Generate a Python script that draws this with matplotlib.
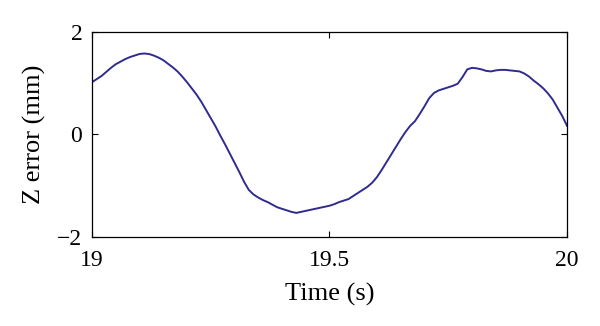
import numpy as np
import matplotlib
matplotlib.use("Agg")
import matplotlib.pyplot as plt

# time samples (s) and Z error (mm) at 0.01 s steps
time_s = np.round(np.arange(19.0, 20.0001, 0.01), 2)
z_error = [
    1.02, 1.08, 1.14, 1.22, 1.30, 1.37, 1.42, 1.47, 1.51, 1.54,
    1.57, 1.58, 1.57, 1.54, 1.50, 1.45, 1.38, 1.31, 1.23, 1.13,
    1.02, 0.90, 0.78, 0.64, 0.48, 0.32, 0.16, -0.02, -0.19, -0.37,
    -0.55, -0.73, -0.92, -1.08, -1.17, -1.23, -1.28, -1.32, -1.37, -1.42,
    -1.45, -1.48, -1.51, -1.53, -1.51, -1.49, -1.47, -1.45, -1.43, -1.41,
    -1.39, -1.36, -1.32, -1.29, -1.26, -1.20, -1.14, -1.08, -1.02, -0.94,
    -0.83, -0.69, -0.54, -0.39, -0.24, -0.09, 0.05, 0.17, 0.26, 0.40,
    0.55, 0.71, 0.81, 0.86, 0.89, 0.92, 0.95, 0.99, 1.12, 1.27,
    1.30, 1.29, 1.27, 1.24, 1.23, 1.25, 1.26, 1.26, 1.25, 1.24,
    1.23, 1.19, 1.13, 1.05, 0.98, 0.90, 0.80, 0.68, 0.52, 0.36,
    0.17,
]
x_ticks = [19, 19.5, 20]
x_tick_labels = ["19", "19.5", "20"]
y_ticks = [-2, 0, 2]

plt.rcParams['font.family'] = ['Liberation Serif', 'DejaVu Serif']

fig = plt.figure(figsize=(6.0, 3.26), dpi=100)
ax = fig.add_axes([0.1533, 0.273, 0.7917, 0.629])
ax.plot(time_s, z_error, color='#302b8e', linewidth=1.4)

ax.set_xlim(19, 20)
ax.set_ylim(-2, 2)
ax.set_xticks(x_ticks)
ax.set_xticklabels(x_tick_labels)
ax.set_yticks(y_ticks)
ax.tick_params(direction='in', top=True, right=True, length=4, width=0.8,
               labelsize=17)
ax.tick_params(axis='x', pad=9)
ax.tick_params(axis='y', pad=7)
for s in ax.spines.values():
    s.set_linewidth(0.9)

ax.set_xlabel("Time (s)", fontsize=19, labelpad=9)
ax.set_ylabel("Z error (mm)", fontsize=19, labelpad=8)

fig.savefig("out.png", dpi=100)
